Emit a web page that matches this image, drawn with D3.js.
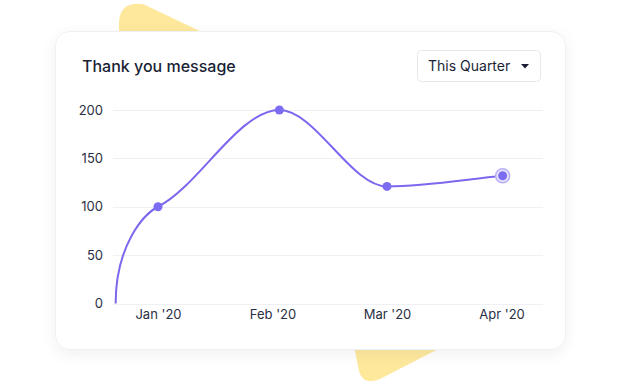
<!DOCTYPE html>
<html>
<head>
<meta charset="utf-8">
<script src="https://cdn.jsdelivr.net/npm/d3@7"></script>
<style>
  body { margin: 0; background: #fff; font-family: Inter, "Noto Sans", sans-serif; }
  svg { display: block; }
</style>
</head>
<body>
<svg id="chart"></svg>
<script>
// chart size
var svgWidth = 620;
var svgHeight = 390;

// data
var months = ["Jan '20", "Feb '20", "Mar '20", "Apr '20"];
var monthIdx = [0, 1, 2, 3];
var pointPos = [-0.37, 0, 1.06, 2, 3.01];   // position of each point along the month axis
var pointVal = [0, 100, 200, 121, 132];
var yTicks = [0, 50, 100, 150, 200];

var svg = d3.select("#chart")
  .attr("width", svgWidth)
  .attr("height", svgHeight);

var defs = svg.append("defs");
var filter = defs.append("filter")
  .attr("id", "shadow")
  .attr("x", "-10%").attr("y", "-10%")
  .attr("width", "120%").attr("height", "130%");
filter.append("feDropShadow")
  .attr("dx", 0).attr("dy", 4)
  .attr("stdDeviation", 7)
  .attr("flood-color", "#1a1f36")
  .attr("flood-opacity", 0.06);

// yellow decorative blobs behind the card
svg.append("path")
  .attr("d", "M119,34 L119,22 Q120,1 143,4 L206,34 Z")
  .attr("fill", "#fde89c");
svg.append("path")
  .attr("d", "M354,346 L359,371 Q363,386 380,379 L444,346 Z")
  .attr("fill", "#fde89c");

// card
svg.append("rect")
  .attr("x", 55.5).attr("y", 31.5)
  .attr("width", 510).attr("height", 318)
  .attr("rx", 14)
  .attr("fill", "#fff")
  .attr("stroke", "#eef0f3")
  .attr("filter", "url(#shadow)");

svg.append("text")
  .attr("x", 82).attr("y", 72)
  .attr("font-size", 16)
  .attr("font-weight", 500)
  .attr("fill", "#1a1f36")
  .text("Thank you message");

// dropdown
var dd = svg.append("g");
dd.append("rect")
  .attr("x", 417.5).attr("y", 50.5)
  .attr("width", 123).attr("height", 31)
  .attr("rx", 4)
  .attr("fill", "#fff")
  .attr("stroke", "#e6e8ec");
dd.append("text")
  .attr("x", 428).attr("y", 71)
  .attr("font-size", 14)
  .attr("fill", "#1a1f36")
  .text("This Quarter");
dd.append("path")
  .attr("d", "M521,64 L529,64 L525,68.5 Z")
  .attr("fill", "#1a1f36");

// scales
var xScale = d3.scaleLinear()
  .domain([0, 3])
  .range([158, 501.5]);

var yScale = d3.scaleLinear()
  .domain([0, 200])
  .range([303.5, 110]);

// gridlines
svg.append("g")
  .selectAll("line")
  .data(yTicks)
  .enter()
  .append("line")
  .attr("x1", 113).attr("x2", 543)
  .attr("y1", d => Math.round(yScale(d)) + 0.5)
  .attr("y2", d => Math.round(yScale(d)) + 0.5)
  .attr("stroke", "#eef0f4");

// y axis labels
var leftAxis = d3.axisLeft(yScale).tickValues(yTicks).tickSize(0).tickPadding(0);
var yAxis = svg.append("g")
  .attr("transform", "translate(103,0)")
  .call(leftAxis);
yAxis.select(".domain").remove();
yAxis.selectAll("text")
  .attr("font-size", 13)
  .attr("font-family", "Inter, 'Noto Sans', sans-serif")
  .attr("fill", "#2a2f45");

// x axis labels
var bottomAxis = d3.axisBottom(xScale)
  .tickValues(monthIdx)
  .tickFormat((d, i) => months[i])
  .tickSize(0).tickPadding(0);
var xAxis = svg.append("g")
  .attr("transform", "translate(0,310)")
  .call(bottomAxis);
xAxis.select(".domain").remove();
xAxis.selectAll("text")
  .attr("font-size", 13)
  .attr("font-family", "Inter, 'Noto Sans', sans-serif")
  .attr("fill", "#2a2f45");

// line - smooth spline, vertical at the start like the original
var points = pointPos.map((p, i) => [xScale(p), yScale(pointVal[i])]);
// screen slope (dy/dx) leaving each point; null = vertical
var slopes = [null, -0.5, 0, 0, -0.1];
var p = d3.path();
p.moveTo(points[0][0], points[0][1]);
for (var i = 1; i < points.length; i++) {
  var a = points[i - 1], b = points[i];
  var h = (b[0] - a[0]) / 3;
  var c1 = slopes[i - 1] === null ? [a[0], a[1] - (a[1] - b[1]) * 0.6] : [a[0] + h, a[1] + slopes[i - 1] * h];
  var c2 = [b[0] - h, b[1] - slopes[i] * h];
  p.bezierCurveTo(c1[0], c1[1], c2[0], c2[1], b[0], b[1]);
}

svg.append("path")
  .attr("d", p.toString())
  .attr("fill", "none")
  .attr("stroke", "#7b68ee")
  .attr("stroke-width", 2);

// markers (first point has no marker)
var marks = pointPos.map((pp, i) => ({ x: pp, y: pointVal[i] })).slice(1);
var last = marks[marks.length - 1];
svg.append("circle")
  .attr("cx", xScale(last.x)).attr("cy", yScale(last.y))
  .attr("r", 7)
  .attr("fill", "#ebe7fd")
  .attr("stroke", "#b8aef6")
  .attr("stroke-width", 1.5);

svg.append("g")
  .selectAll("circle")
  .data(marks)
  .enter()
  .append("circle")
  .attr("cx", d => xScale(d.x))
  .attr("cy", d => yScale(d.y))
  .attr("r", 4.5)
  .attr("fill", "#7c6cf2");
</script>
</body>
</html>
